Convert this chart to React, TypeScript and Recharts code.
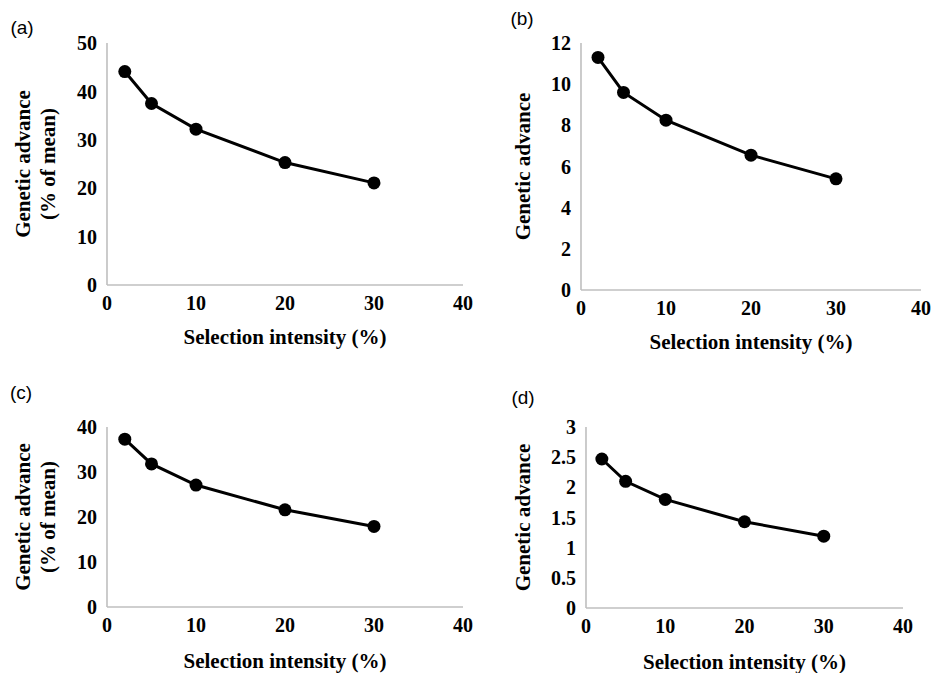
import { LineChart, Line, XAxis, YAxis } from "recharts";

const intensity = [2, 5, 10, 20, 30];
const xTicks = [0, 10, 20, 30, 40];

const advanceA = [44.1, 37.5, 32.2, 25.3, 21.1];
const advanceB = [11.3, 9.6, 8.25, 6.55, 5.4];
const advanceC = [37.3, 31.8, 27.1, 21.6, 17.9];
const advanceD = [2.47, 2.1, 1.8, 1.43, 1.19];

const ticksA = [0, 10, 20, 30, 40, 50];
const ticksB = [0, 2, 4, 6, 8, 10, 12];
const ticksC = [0, 10, 20, 30, 40];
const ticksD = [0, 0.5, 1, 1.5, 2, 2.5, 3];

const titlePct = ["Genetic advance", "(% of mean)"];
const titlePlain = ["Genetic advance"];

const SERIF = "'Liberation Serif', 'Times New Roman', serif";
const SANS = "'Liberation Sans', Arial, sans-serif";
const AXIS_GREY = "#bfbfbf";
const Y_AXIS_W = 60;
const X_AXIS_H = 30;

const tickStyle = {
  fontFamily: SERIF,
  fontSize: 20,
  fontWeight: 700,
  fill: "#000",
};

interface PanelProps {
  tag: string;
  values: number[];
  yTicks: number[];
  yTitle: string[];
  box: { left: number; top: number; width: number; height: number };
  // plot area edges, local to the panel box
  plot: { top: number; right: number; bottom: number; left: number };
  tagPos: { x: number; y: number };
  titleOffsets: number[];
  xTitleGap: number;
}

function Panel({
  tag,
  values,
  yTicks,
  yTitle,
  box,
  plot,
  tagPos,
  titleOffsets,
  xTitleGap,
}: PanelProps) {
  const data = intensity.map((x, i) => ({ x, y: values[i] }));
  const yMax = yTicks[yTicks.length - 1];
  const margin = {
    top: plot.top,
    left: plot.left - Y_AXIS_W,
    right: box.width - plot.right,
    bottom: box.height - plot.bottom - X_AXIS_H,
  };

  return (
    <div
      style={{
        position: "absolute",
        left: box.left,
        top: box.top,
        width: box.width,
        height: box.height,
      }}
    >
      <div
        style={{
          position: "absolute",
          left: tagPos.x,
          top: tagPos.y,
          transform: "translate(-50%, -50%)",
          fontFamily: SANS,
          fontSize: 19,
          lineHeight: 1,
          color: "#000",
        }}
      >
        ({tag})
      </div>
      <LineChart width={box.width} height={box.height} data={data} margin={margin}>
        <XAxis
          dataKey="x"
          type="number"
          domain={[0, 40]}
          ticks={xTicks}
          interval={0}
          height={X_AXIS_H}
          tickSize={0}
          tickMargin={11}
          tick={tickStyle}
          axisLine={{ stroke: AXIS_GREY, strokeWidth: 1.6 }}
          tickLine={false}
          label={(props: any) => {
            const vb = props.viewBox;
            return (
              <text
                x={vb.x + vb.width / 2}
                y={vb.y + xTitleGap}
                textAnchor="middle"
                dominantBaseline="central"
                fontFamily={SERIF}
                fontSize={21}
                fontWeight={700}
                fill="#000"
              >
                Selection intensity (%)
              </text>
            );
          }}
        />
        <YAxis
          type="number"
          domain={[0, yMax]}
          ticks={yTicks}
          interval={0}
          width={Y_AXIS_W}
          tickSize={0}
          tickMargin={10}
          tick={tickStyle}
          axisLine={{ stroke: AXIS_GREY, strokeWidth: 1.6 }}
          tickLine={false}
          label={(props: any) => {
            const vb = props.viewBox;
            const cy = vb.y + vb.height / 2;
            const axisX = vb.x + vb.width;
            return (
              <g>
                {yTitle.map((line, i) => {
                  const cx = axisX - titleOffsets[i];
                  return (
                    <text
                      key={line}
                      x={cx}
                      y={cy}
                      transform={`rotate(-90, ${cx}, ${cy})`}
                      textAnchor="middle"
                      dominantBaseline="central"
                      fontFamily={SERIF}
                      fontSize={21}
                      fontWeight={700}
                      fill="#000"
                    >
                      {line}
                    </text>
                  );
                })}
              </g>
            );
          }}
        />
        <Line
          dataKey="y"
          stroke="#000"
          strokeWidth={3}
          dot={{ r: 6.5, fill: "#000", stroke: "none" }}
          isAnimationActive={false}
        />
      </LineChart>
    </div>
  );
}

export default function App() {
  return (
    <div
      style={{
        position: "absolute",
        left: 0,
        top: 0,
        width: 935,
        height: 673,
        background: "#fff",
      }}
    >
      <Panel
        tag="a"
        values={advanceA}
        yTicks={ticksA}
        yTitle={titlePct}
        box={{ left: 0, top: 0, width: 482, height: 365 }}
        plot={{ top: 43, right: 463, bottom: 285, left: 107 }}
        tagPos={{ x: 22, y: 27 }}
        titleOffsets={[84, 59]}
        xTitleGap={52}
      />
      <Panel
        tag="b"
        values={advanceB}
        yTicks={ticksB}
        yTitle={titlePlain}
        box={{ left: 467, top: 0, width: 468, height: 365 }}
        plot={{ top: 43, right: 454, bottom: 290, left: 114 }}
        tagPos={{ x: 55, y: 18 }}
        titleOffsets={[58]}
        xTitleGap={52}
      />
      <Panel
        tag="c"
        values={advanceC}
        yTicks={ticksC}
        yTitle={titlePct}
        box={{ left: 0, top: 365, width: 482, height: 308 }}
        plot={{ top: 62, right: 463, bottom: 242, left: 107 }}
        tagPos={{ x: 21, y: 27 }}
        titleOffsets={[84, 59]}
        xTitleGap={54}
      />
      <Panel
        tag="d"
        values={advanceD}
        yTicks={ticksD}
        yTitle={titlePlain}
        box={{ left: 467, top: 365, width: 468, height: 308 }}
        plot={{ top: 62, right: 436, bottom: 243, left: 119 }}
        tagPos={{ x: 56, y: 32 }}
        titleOffsets={[63]}
        xTitleGap={54}
      />
    </div>
  );
}
